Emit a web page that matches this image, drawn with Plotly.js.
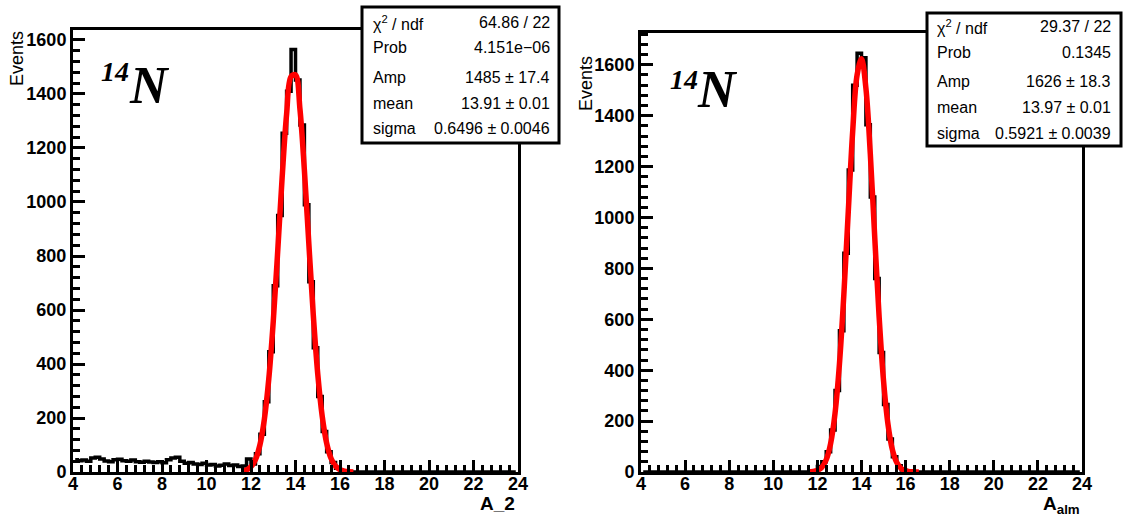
<!DOCTYPE html>
<html>
<head>
<meta charset="utf-8">
<script src="https://cdn.plot.ly/plotly-3.0.1.min.js"></script>
<style>html,body{margin:0;padding:0;background:#fff;}#chart{width:1124px;height:516px;}</style>
</head>
<body>
<div id="chart"></div>
<script>
// ---------- DATA ----------
const binStart = 4.0;
const binWidth = 0.2;

// Left histogram (A_2), 100 bins from 4 to 24
const leftCounts = [
  45, 42, 44, 40, 52, 55, 48, 41, 38, 45,
  47, 42, 40, 44, 38, 36, 40, 37, 35, 38,
  34, 45, 52, 55, 40, 32, 35, 30, 28, 32,
  26, 28, 22, 25, 30, 24, 26, 20, 22, 48,
  30, 68, 140, 260, 445, 690, 950, 1255, 1410, 1565,
  1452, 1285, 990, 705, 460, 280, 150, 75, 35, 14,
  5, 1, 0, 0, 0, 0, 0, 0, 0, 0,
  0, 0, 0, 0, 0, 0, 0, 0, 0, 0,
  0, 0, 0, 0, 0, 0, 0, 0, 0, 0,
  0, 0, 0, 0, 0, 0, 0, 0, 0, 0
];

// Right histogram (A_alm), 100 bins from 4 to 24
const rightCounts = [
  0, 0, 0, 0, 0, 0, 0, 0, 0, 0,
  0, 0, 0, 0, 0, 0, 0, 0, 0, 0,
  0, 0, 0, 0, 0, 0, 0, 0, 0, 0,
  0, 0, 0, 0, 0, 0, 0, 0, 0, 5,
  22, 40, 80, 165, 320, 555, 860, 1187, 1520, 1645,
  1628, 1364, 1081, 760, 470, 265, 130, 60, 25, 8,
  2, 0, 0, 0, 0, 0, 0, 0, 0, 0,
  0, 0, 0, 0, 0, 0, 0, 0, 0, 0,
  0, 0, 0, 0, 0, 0, 0, 0, 0, 0,
  0, 0, 0, 0, 0, 0, 0, 0, 0, 0
];

// Fit curves (red)
const fitX = [11.6, 11.8, 12.0, 12.2, 12.4, 12.6, 12.8, 13.0, 13.2, 13.4, 13.6, 13.8, 14.0,
              14.2, 14.4, 14.6, 14.8, 15.0, 15.2, 15.4, 15.6, 15.8, 16.0, 16.2, 16.4, 16.6];
const leftFitY = [2.7, 7.6, 19.7, 46, 100, 195, 345, 557, 817, 1091, 1325, 1464, 1471,
                  1344, 1117, 845, 581, 363, 207, 107, 50, 21.6, 8.4, 3, 1, 0.3];
const rightFitY = [0.5, 2, 6.4, 18.6, 48, 112, 231, 425, 698, 1023, 1338, 1560, 1624,
                   1508, 1249, 923, 609, 358, 188, 88, 37, 13.7, 4.6, 1.3, 0.4, 0.1];

// Stats boxes
const statLabels = ["χ<sup>2</sup> / ndf", "Prob", "Amp", "mean", "sigma"];
const leftStatValues = ["64.86 / 22", "4.151e\u221206", "1485 ± 17.4", "13.91 ± 0.01", "0.6496 ± 0.0046"];
const rightStatValues = ["29.37 / 22", "0.1345", "1626 ± 18.3", "13.97 ± 0.01", "0.5921 ± 0.0039"];

// Axis labels
const yTitle = "Events";
const leftXTitle = "A_2";
const rightXTitle = "A<sub>alm</sub>";
const nucleusMass = "14";
const nucleusSymbol = "N";

// ---------- BUILD ----------
const W = 1124, H = 516;
const px = v => v / W;
const py = v => 1 - v / H;

const binCenters = leftCounts.map((_, i) => binStart + binWidth * (i + 0.5));

function histTrace(counts, xa, ya) {
  return {
    x: binCenters, y: counts, xaxis: xa, yaxis: ya,
    type: 'scatter', mode: 'lines',
    line: {color: '#000', width: 3.5, shape: 'hvh'},
    hoverinfo: 'x+y'
  };
}
function fitTrace(ys, xa, ya) {
  return {
    x: fitX, y: ys, xaxis: xa, yaxis: ya,
    type: 'scatter', mode: 'lines',
    line: {color: '#ff0000', width: 5.5, shape: 'spline', smoothing: 1},
    hoverinfo: 'x+y'
  };
}

const traces = [
  histTrace(leftCounts, 'x', 'y'),
  fitTrace(leftFitY, 'x', 'y'),
  histTrace(rightCounts, 'x2', 'y2'),
  fitTrace(rightFitY, 'x2', 'y2')
];

const tickFont = {family: 'Liberation Sans, Arial, sans-serif', size: 18, color: '#000', weight: 'bold'};

function xAxis(domain, anchor) {
  return {
    domain: domain, anchor: anchor, range: [4, 24],
    showline: true, linewidth: 3, linecolor: '#000', mirror: true,
    ticks: 'inside', ticklen: 12, tickwidth: 3, tickcolor: '#000',
    tick0: 4, dtick: 2, ticklabelstandoff: -7,
    minor: {ticks: 'inside', dtick: 0.4, ticklen: 7, tickwidth: 3, tickcolor: '#000', showgrid: false},
    showgrid: false, zeroline: false, tickfont: tickFont, fixedrange: true
  };
}
function yAxis(domain, anchor, ymax) {
  return {
    domain: domain, anchor: anchor, range: [0, ymax],
    showline: true, linewidth: 3, linecolor: '#000', mirror: true,
    ticks: 'inside', ticklen: 12, tickwidth: 3, tickcolor: '#000',
    tick0: 0, dtick: 200,
    minor: {ticks: 'inside', dtick: 40, ticklen: 7, tickwidth: 3, tickcolor: '#000', showgrid: false},
    showgrid: false, zeroline: false, tickfont: tickFont, fixedrange: true
  };
}

const annotations = [];
const shapes = [];

function addText(text, x, y, opts) {
  annotations.push(Object.assign({
    text: text, x: px(x), y: py(y), xref: 'paper', yref: 'paper',
    showarrow: false, xanchor: 'center', yanchor: 'middle',
    font: {family: 'Liberation Sans, Arial, sans-serif', size: 16, color: '#000'}
  }, opts || {}));
}

function statsBox(x0, x1, y0, y1, textL, textR, rowYs, values) {
  shapes.push({type: 'rect', xref: 'paper', yref: 'paper',
    x0: px(x0), x1: px(x1), y0: py(y1), y1: py(y0),
    fillcolor: '#fff', line: {color: '#000', width: 3}, layer: 'above'});
  statLabels.forEach((lab, i) => {
    addText(lab, textL, rowYs[i], {xanchor: 'left'});
    addText(values[i], textR, rowYs[i], {xanchor: 'right'});
  });
}

statsBox(362, 559, 7, 143, 371, 552, [23, 48, 77, 103, 128], leftStatValues);
statsBox(927, 1121, 13, 146, 935, 1113, [27, 53, 81, 107, 133], rightStatValues);

// y titles
addText(yTitle, 17, 59, {textangle: -90, font: {family: 'Liberation Sans, Arial, sans-serif', size: 18, color: '#000'}});
addText(yTitle, 586, 84, {textangle: -90, font: {family: 'Liberation Sans, Arial, sans-serif', size: 18, color: '#000'}});

// x titles
addText(leftXTitle, 517, 503, {xanchor: 'right', font: {family: 'Liberation Sans, Arial, sans-serif', size: 19, color: '#000', weight: 'bold'}});
addText(rightXTitle, 1082, 505, {xanchor: 'right', font: {family: 'Liberation Sans, Arial, sans-serif', size: 19, color: '#000', weight: 'bold'}});

// 14N labels
const serifIt = (s) => ({family: 'Liberation Serif, Times New Roman, serif', size: s, color: '#000', style: 'italic', weight: 'bold'});
addText(nucleusMass, 115, 71, {font: serifIt(28)});
addText(nucleusSymbol, 149, 86, {font: serifIt(52)});
addText(nucleusMass, 684, 79, {font: serifIt(28)});
addText(nucleusSymbol, 717, 90, {font: serifIt(52)});

const layout = {
  width: W, height: H,
  margin: {l: 0, r: 0, t: 0, b: 0},
  paper_bgcolor: '#fff', plot_bgcolor: '#fff',
  showlegend: false,
  xaxis: xAxis([px(73), px(518)], 'y'),
  yaxis: yAxis([py(472), py(30)], 'x', 1637),
  xaxis2: xAxis([px(641), px(1082)], 'y2'),
  yaxis2: yAxis([py(472), py(33)], 'x2', 1725),
  shapes: shapes,
  annotations: annotations
};

Plotly.newPlot('chart', traces, layout, {displayModeBar: false, staticPlot: true});
</script>
</body>
</html>
